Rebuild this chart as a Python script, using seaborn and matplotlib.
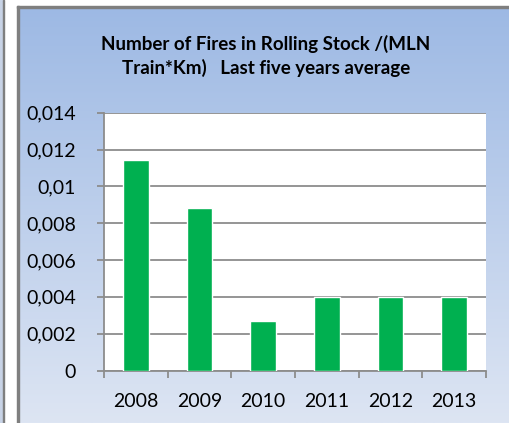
import matplotlib
matplotlib.use("Agg")
import matplotlib.pyplot as plt
import numpy as np
import pandas as pd
import seaborn as sns
from matplotlib.colors import LinearSegmentedColormap
from matplotlib.patches import Rectangle

years = ["2008", "2009", "2010", "2011", "2012", "2013"]
fires_per_mln_km = [0.01145, 0.00885, 0.0027, 0.004, 0.004, 0.004]
y_ticks = [0, 0.002, 0.004, 0.006, 0.008, 0.01, 0.012, 0.014]
y_labels = ["0", "0,002", "0,004", "0,006", "0,008", "0,01", "0,012", "0,014"]
title = "Number of Fires in Rolling Stock /(MLN\nTrain*Km)   Last five years average"

df = pd.DataFrame({"year": years, "value": fires_per_mln_km})

sns.set_theme(style="white")
plt.rcParams["font.family"] = ["Lato", "DejaVu Sans"]

W, H = 510, 423
fig = plt.figure(figsize=(W / 100, H / 100), dpi=100)
fig.patch.set_facecolor("white")

# gradient panel behind the chart
bg = fig.add_axes([19 / W, 0, 1 - 19 / W, 1 - 8 / H])
grad = LinearSegmentedColormap.from_list("bg", ["#9db9e4", "#dde5f3"])
bg.imshow(np.linspace(0, 1, 256).reshape(-1, 1), aspect="auto", cmap=grad,
          extent=[0, 1, 0, 1], origin="upper")
bg.set_axis_off()

# frame lines
fig.patches.append(Rectangle((17 / W, 0), 2 / W, 1 - 6 / H, transform=fig.transFigure,
                             color="#7f7f7f", zorder=5))
fig.patches.append(Rectangle((17 / W, 1 - 8 / H), 1 - 17 / W, 2 / H, transform=fig.transFigure,
                             color="#7f7f7f", zorder=5))
fig.patches.append(Rectangle((0, 0), 3 / W, 1, transform=fig.transFigure,
                             color="#c8d3e6", zorder=5))
fig.patches.append(Rectangle((3 / W, 0), 1.2 / W, 1, transform=fig.transFigure,
                             color="#7f7f7f", zorder=5))

left, right, top, bottom = 104, 486, 112.7, 370.5
ax = fig.add_axes([left / W, 1 - bottom / H, (right - left) / W, (bottom - top) / H])
ax.set_facecolor("white")
sns.barplot(data=df, x="year", y="value", color="#00b050", width=0.4,
            saturation=1, ax=ax, zorder=3)

ax.set_ylim(0, 0.014)
ax.set_xlim(-0.5, len(years) - 0.5)
ax.set_yticks(y_ticks)
ax.set_yticklabels(y_labels)
ax.set_xlabel("")
ax.set_ylabel("")
ax.yaxis.grid(True, color="#8c8c8c", linewidth=1.3, zorder=0)
ax.set_axisbelow(True)

for s in ["top", "right"]:
    ax.spines[s].set_visible(False)
for s in ["left", "bottom"]:
    ax.spines[s].set_color("#8c8c8c")
    ax.spines[s].set_linewidth(1.3)

ax.tick_params(axis="y", length=5, width=1.3, color="#8c8c8c", pad=15,
               labelsize=14, labelcolor="black", left=True)
ax.tick_params(axis="x", which="major", length=0, pad=16, labelsize=14,
               labelcolor="black")
ax.set_xticks(np.arange(-0.5, len(years)), minor=True)
ax.tick_params(axis="x", which="minor", length=5, width=1.3, color="#8c8c8c",
               bottom=True)

fig.text(266 / W, 1 - 56 / H, title, ha="center", va="center", fontsize=13.5,
         fontweight="bold", linespacing=1.45, color="black")

fig.savefig("out.png", dpi=100)
